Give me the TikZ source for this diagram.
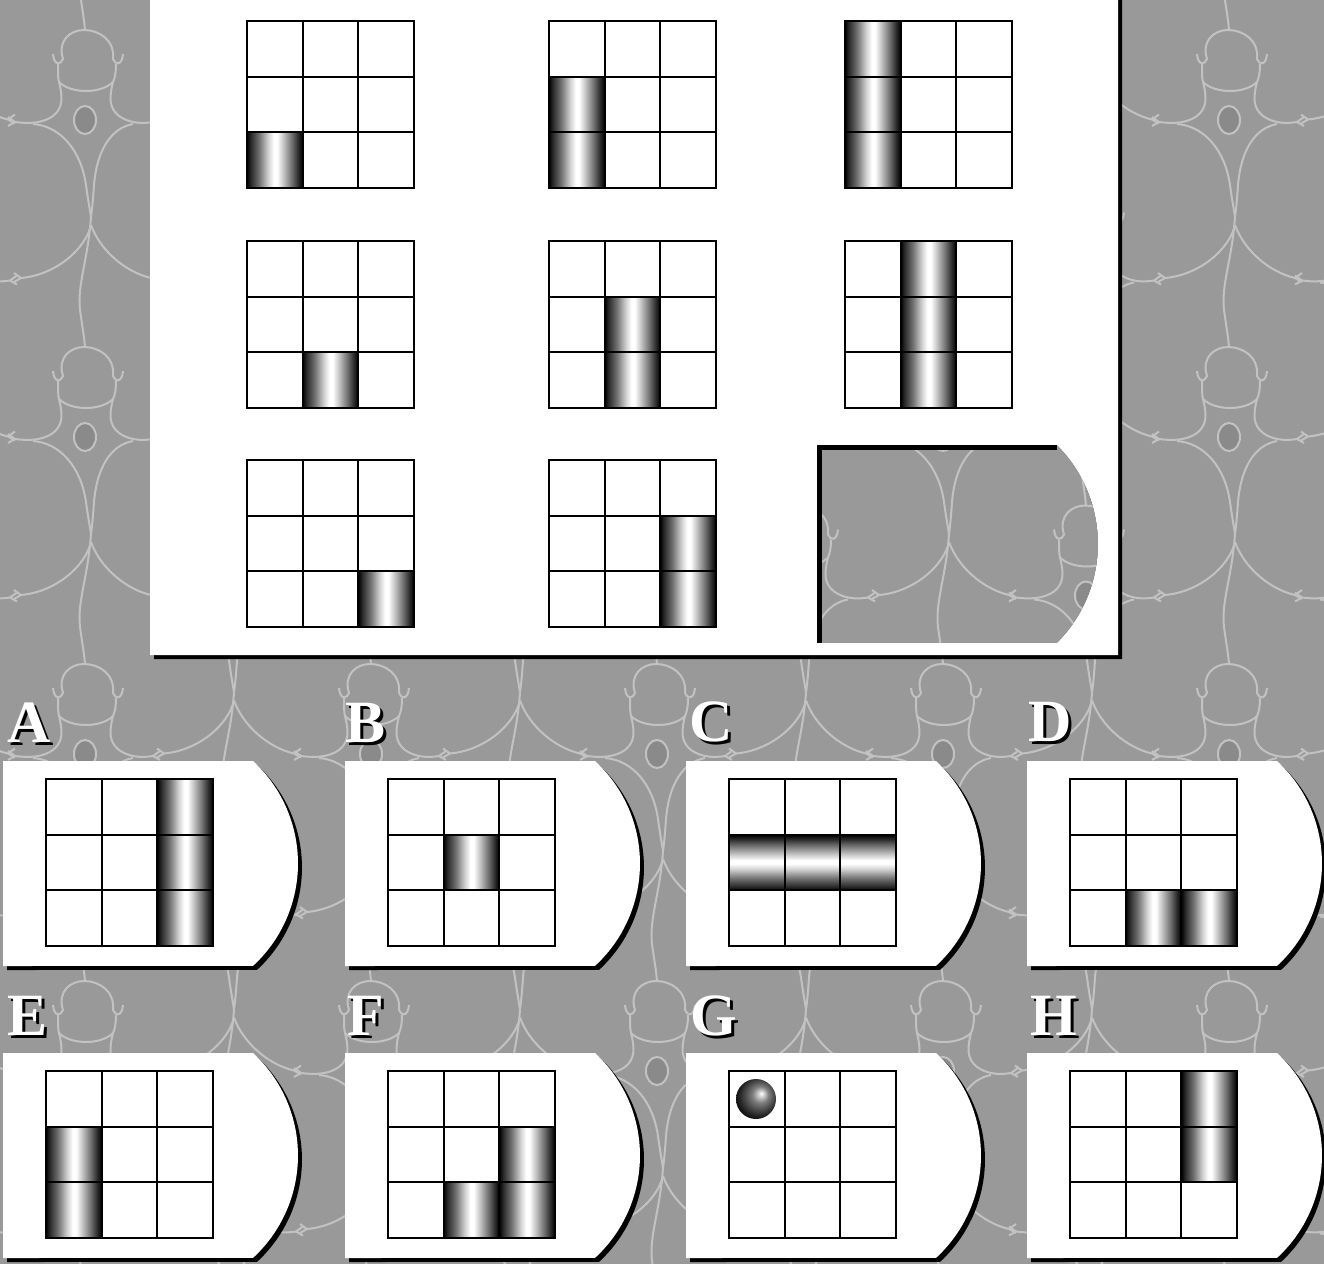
\documentclass[tikz,border=0pt]{standalone}
\usepackage{fontspec}
\newfontfamily\letterfont{Liberation Serif}
\usetikzlibrary{calc}

\definecolor{bggray}{HTML}{999999}
\definecolor{ptngray}{HTML}{C2C2C2}
\definecolor{ovalgray}{HTML}{8A8A8A}

% metal bar and ball shadings
\pgfdeclarehorizontalshading{vbar}{100bp}{color(0bp)=(black); color(25bp)=(black); color(28bp)=(black!85); color(36bp)=(black!55); color(44bp)=(black!18); color(49bp)=(white); color(52bp)=(white); color(58bp)=(black!25); color(66bp)=(black!60); color(72bp)=(black!88); color(75bp)=(black); color(100bp)=(black)}
\pgfdeclareverticalshading{hbar}{100bp}{color(0bp)=(black); color(25bp)=(black); color(28bp)=(black!85); color(36bp)=(black!55); color(44bp)=(black!18); color(49bp)=(white); color(52bp)=(white); color(58bp)=(black!25); color(66bp)=(black!60); color(72bp)=(black!88); color(75bp)=(black); color(100bp)=(black)}
\pgfdeclareradialshading{orb}{\pgfpoint{7bp}{7bp}}{color(0bp)=(white); color(4bp)=(black!20); color(10bp)=(black!50); color(17bp)=(black!68); color(24bp)=(black!85); color(32bp)=(black); color(50bp)=(black)}

\newcommand\cellsz{55.7}
\newcommand\board[2]{%
  \foreach \rw in {0,1,2} \foreach \cl in {0,1,2}
    \draw[gridline] ({#1+\cl*\cellsz},{#2+\rw*\cellsz}) rectangle ++(\cellsz,\cellsz);
}
\newcommand\bars[4]{%
  \foreach \rw/\cl in {#4}
    \shade[shading=#3] ({#1+\cl*\cellsz},{#2+\rw*\cellsz}) rectangle ++(\cellsz,\cellsz);
}
\newcommand\cardpath{(0,0) -- (250,0) arc[start angle=-47.4, end angle=47.4, radius=139.2] -- (0,205) -- cycle}
\newcommand\holepath{(817,445) -- (1057,445) arc[start angle=-45, end angle=45, radius=140] -- (817,643) -- cycle}
\newcommand\card[2]{%
  \fill[black, shift={(#1+4,#2+4)}] \cardpath;
  \fill[white, shift={(#1,#2)}] \cardpath;
}

\begin{document}
\begin{tikzpicture}[x=0.5pt, y=-0.5pt,
  ptn/.style={draw=ptngray, line width=1pt},
  gridline/.style={draw=black, line width=1pt},
  lettr/.style={font=\letterfont\bfseries\fontsize{30}{30}\selectfont, text=white, inner sep=0pt},
  motif/.pic={
    % spine down to the next head
    \draw[ptn] (6,97) .. controls (3,140) and (-8,165) .. (-5,190) .. controls (-3,205) and (-1,215) .. (0,227);
    % body
    \draw[ptn] (-52,4) .. controls (-25,6) and (-4,30) .. (1,65) .. controls (3,80) and (5,90) .. (6,97);
    \draw[ptn] (48,4) .. controls (26,8) and (12,30) .. (9,65) .. controls (8,80) and (7,90) .. (6,97);
    % lower branches
    \draw[ptn] (6,105) .. controls (0,130) and (-30,155) .. (-64,158);
    \draw[ptn] (6,105) .. controls (15,130) and (40,152) .. (66,158);
    % neck and arms
    \draw[ptn] (-26,-38) .. controls (-22,-22) and (-22,-12) .. (-32,-4) .. controls (-42,3) and (-55,4) .. (-70,2);
    \draw[ptn] (28,-38) .. controls (24,-22) and (24,-12) .. (34,-4) .. controls (44,3) and (56,4) .. (68,2);
    % head with its two cups
    \draw[ptn] (-32,-66) .. controls (-31,-54) and (-24,-55) .. (-22,-61) .. controls (-28,-80) and (-14,-90) .. (-1,-90)
      .. controls (14,-90) and (30,-80) .. (28,-61) .. controls (30,-55) and (37,-54) .. (38,-66);
    \draw[ptn] (-27,-56) .. controls (-27,-46) and (-27,-42) .. (-26,-38) .. controls (-14,-26) and (16,-26) .. (28,-38) .. controls (30,-42) and (31,-48) .. (31,-56);
    % hooks
    \foreach \px/\py/\d in {-70/2/-1, 68/2/1, -64/158/-1, 66/158/1}
      \draw[ptn] (\px,\py) -- ++(\d*7,-5) (\px,\py) -- ++(\d*7,4);
    \draw[ptn, fill=ovalgray] (0,0) ellipse[x radius=11, y radius=14];
  }]

\useasboundingbox (0,0) rectangle (1324,1264);
\fill[bggray] (0,0) rectangle (1324,1264);

% background ornament
\begin{scope}
  \clip (0,0) rectangle (1324,1264);
  \foreach \i in {0,...,4} \foreach \j in {-1,...,3}
    \pic at ({85+286*\i},{120+317*\j}) {motif};
  \foreach \i in {-1,...,4} \foreach \j in {-1,...,3}
    \pic at ({228+286*\i},{278.5+317*\j}) {motif};
\end{scope}

% question panel with the empty slot
\fill[black, even odd rule] (154,-5) rectangle (1122,659) \holepath;
\fill[white, even odd rule] (150,-5) rectangle (1118,655) \holepath;
\draw[line width=2.5pt] (819.5,643) -- (819.5,447.5) -- (1057,447.5);

\bars{247}{21}{vbar}{2/0}             \board{247}{21}
\bars{549}{21}{vbar}{1/0,2/0}         \board{549}{21}
\bars{845}{21}{vbar}{0/0,1/0,2/0}     \board{845}{21}
\bars{247}{241}{vbar}{2/1}            \board{247}{241}
\bars{549}{241}{vbar}{1/1,2/1}        \board{549}{241}
\bars{845}{241}{vbar}{0/1,1/1,2/1}    \board{845}{241}
\bars{247}{460}{vbar}{2/2}            \board{247}{460}
\bars{549}{460}{vbar}{1/2,2/2}        \board{549}{460}

% answer cards
\foreach \x/\y in {3/761, 345/761, 686/761, 1027/761, 3/1053, 345/1053, 686/1053, 1027/1053}
  {\card{\x}{\y}}

\bars{46}{779}{vbar}{0/2,1/2,2/2}     \board{46}{779}
\bars{388}{779}{vbar}{1/1}            \board{388}{779}
\bars{729}{779}{hbar}{1/0,1/1,1/2}    \board{729}{779}
\bars{1070}{779}{vbar}{2/1,2/2}       \board{1070}{779}
\bars{46}{1071}{vbar}{1/0,2/0}        \board{46}{1071}
\bars{388}{1071}{vbar}{1/2,2/1,2/2}   \board{388}{1071}
\shade[shading=orb] (756,1099) circle[radius=20];
                                      \board{729}{1071}
\bars{1070}{1071}{vbar}{0/2,1/2}      \board{1070}{1071}

% letters
\foreach \t/\x/\y in {A/29/723, B/366/723, C/711/722, D/1050/722, E/28/1016, F/366/1016, G/714/1016, H/1054/1016} {
  \node[lettr, text=black] (s\t) at (\x+3,\y+3) {\t};
  \node[lettr] (l\t) at (\x,\y) {\t};
}
\end{tikzpicture}
\end{document}
